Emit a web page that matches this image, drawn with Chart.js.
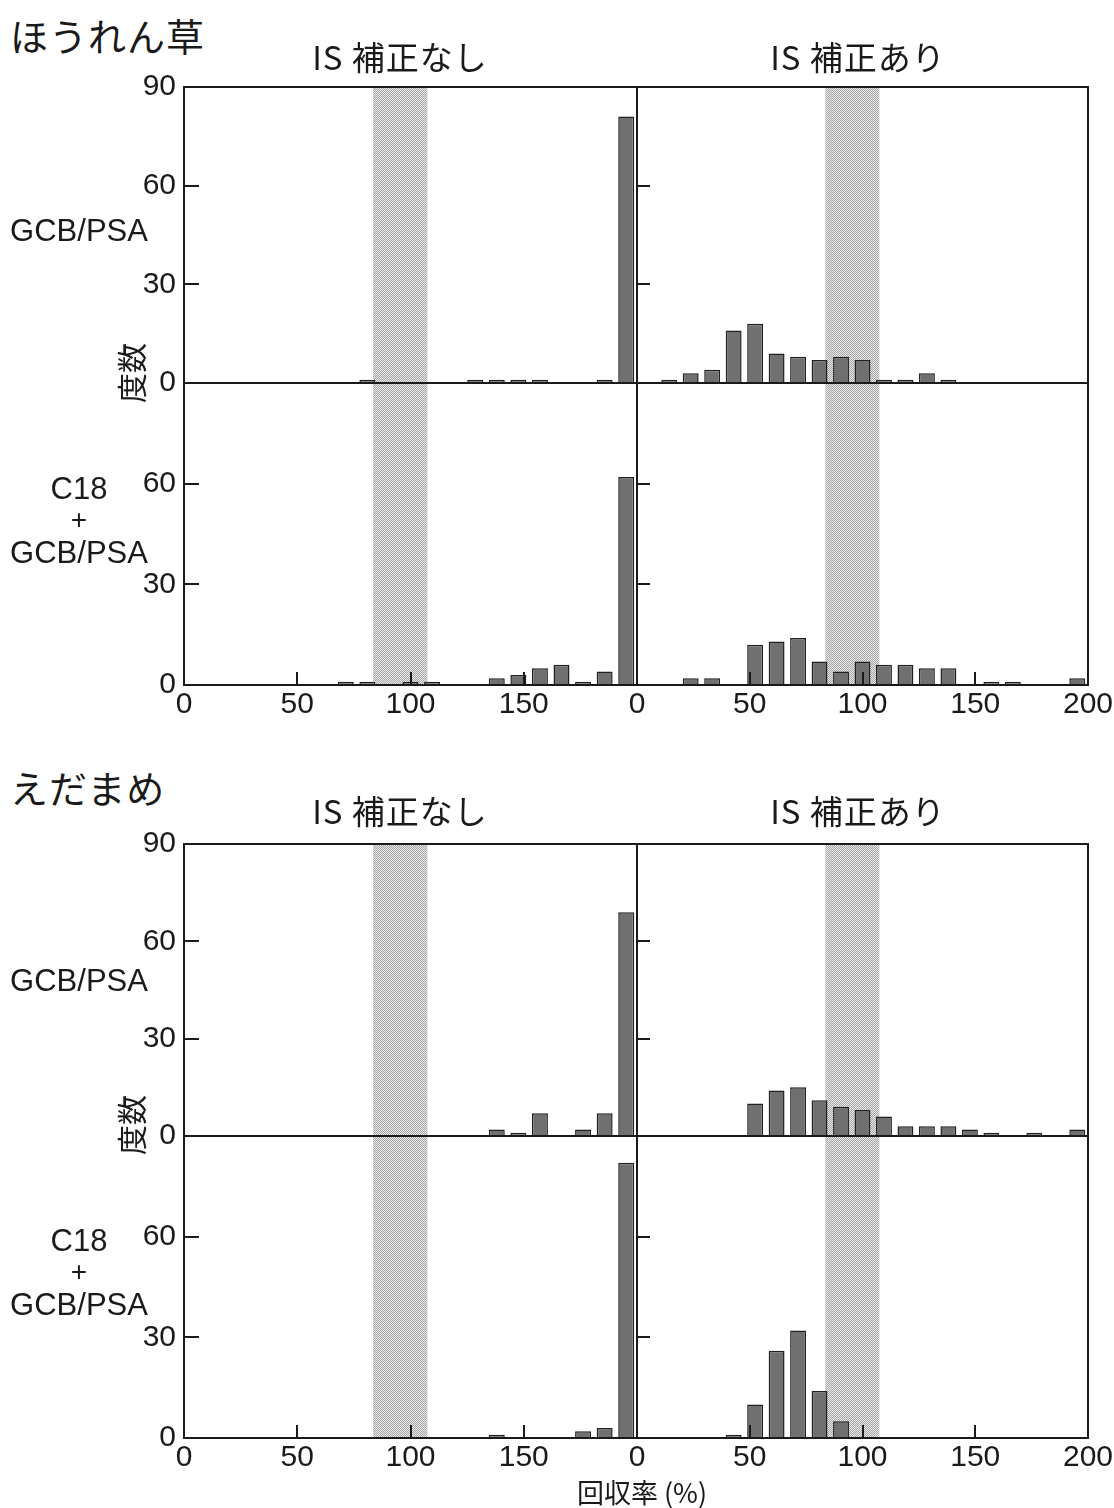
<!DOCTYPE html>
<html lang="ja">
<head>
<meta charset="utf-8">
<title>回収率の度数分布</title>
<script src="https://cdn.jsdelivr.net/npm/chart.js@4.4.1/dist/chart.umd.min.js"></script>
<style>
  html, body { margin: 0; padding: 0; background: #fff; }
  #page { position: relative; width: 1114px; height: 1508px; overflow: hidden; background: #fff; }
  #page canvas { position: absolute; }
  .t { position: absolute; white-space: nowrap; color: #1a1a1a; line-height: 1; }
  .jp { font-family: "Noto Sans CJK JP", "Noto Sans CJK SC", sans-serif; }
  .lat { font-family: "Liberation Sans", Arial, sans-serif; }
</style>
</head>
<body>
<div id="page"></div>
<script>
// ---- data ---------------------------------------------------------------
// recovery-rate classes (%), one bar per class
const recoveryBins = ['0', '10', '20', '30', '40', '50', '60', '70', '80', '90', '100',
                      '110', '120', '130', '140', '150', '160', '170', '180', '190', '200'];
const xTickValues = [0, 50, 100, 150, 200];
const yTickValues = [0, 30, 60, 90];
const targetBand = [83.5, 107.5];   // shaded recovery range (%)

const groupNames = ['ほうれん草', 'えだまめ'];
const columnTitles = ['IS 補正なし', 'IS 補正あり'];
const rowLabels = [['GCB/PSA'], ['C18', '+', 'GCB/PSA']];
const yAxisTitle = '度数';
const xAxisTitle = '回収率 (%)';

// frequencies per class: spinach
const spinachGcbNoIS  = [0, 0, 0, 0, 0, 0, 0, 0, 1, 0, 0, 0, 0, 1, 1, 1, 1, 0, 0, 1, 81];
const spinachGcbIS    = [0, 1, 3, 4, 16, 18, 9, 8, 7, 8, 7, 1, 1, 3, 1, 0, 0, 0, 0, 0, 0];
const spinachC18NoIS  = [0, 0, 0, 0, 0, 0, 0, 1, 1, 0, 1, 1, 0, 0, 2, 3, 5, 6, 1, 4, 62];
const spinachC18IS    = [0, 0, 2, 2, 0, 12, 13, 14, 7, 4, 7, 6, 6, 5, 5, 0, 1, 1, 0, 0, 2];
// frequencies per class: edamame
const edamameGcbNoIS  = [0, 0, 0, 0, 0, 0, 0, 0, 0, 0, 0, 0, 0, 0, 2, 1, 7, 0, 2, 7, 69];
const edamameGcbIS    = [0, 0, 0, 0, 0, 10, 14, 15, 11, 9, 8, 6, 3, 3, 3, 2, 1, 0, 1, 0, 2];
const edamameC18NoIS  = [0, 0, 0, 0, 0, 0, 0, 0, 0, 0, 0, 0, 0, 0, 1, 0, 0, 0, 2, 3, 82];
const edamameC18IS    = [0, 0, 0, 0, 1, 10, 26, 32, 14, 5, 0, 0, 0, 0, 0, 0, 0, 0, 0, 0, 0];

// [group][row][column]
const panelSeries = [
  [[spinachGcbNoIS, spinachGcbIS], [spinachC18NoIS, spinachC18IS]],
  [[edamameGcbNoIS, edamameGcbIS], [edamameC18NoIS, edamameC18IS]]
];

// ---- layout -------------------------------------------------------------
const frame = {
  cols: [{ x0: 184, x1: 637 }, { x0: 637, x1: 1088 }],
  groups: [
    { rows: [[87, 383], [383, 685]], nameY: 35, titleY: 56, rowLabelY: [230, 488], yTitleY: 373 },
    { rows: [[844, 1136], [1136, 1438]], nameY: 787, titleY: 810, rowLabelY: [980, 1240], yTitleY: 1125 }
  ],
  titleX: [400, 858],
  rowLabelX: 79,
  lineGap: 32,
  xTitle: { x: 642, y: 1491 }
};

const INK = '#1a1a1a';
const tickFont = { family: 'Liberation Sans', size: 30 };

const page = document.getElementById('page');

// fine stipple used for the shaded range
function stipple(ctx, dark, light) {
  const c = document.createElement('canvas');
  c.width = 2; c.height = 2;
  const g = c.getContext('2d');
  g.fillStyle = light; g.fillRect(0, 0, 2, 2);
  g.fillStyle = dark; g.fillRect(0, 0, 1, 1); g.fillRect(1, 1, 1, 1);
  return ctx.createPattern(c, 'repeat');
}

// shaded band, frame and inward tick marks
const panelDecor = {
  id: 'panelDecor',
  beforeDatasetsDraw(chart) {
    const { ctx, chartArea: a, scales } = chart;
    const x0 = scales.v.getPixelForValue(targetBand[0]);
    const x1 = scales.v.getPixelForValue(targetBand[1]);
    ctx.save();
    ctx.fillStyle = stipple(ctx, '#a4a4a4', '#ebebeb');
    ctx.fillRect(x0, a.top, x1 - x0, a.bottom - a.top);
    ctx.restore();
  },
  afterDatasetsDraw(chart, args, opts) {
    const { ctx, chartArea: a, scales } = chart;
    ctx.save();
    ctx.strokeStyle = INK;
    ctx.lineWidth = 2;
    ctx.beginPath();
    scales.y.ticks.forEach(t => {
      if (t.value > 0 && t.value < 90) {
        const y = Math.round(scales.y.getPixelForValue(t.value));
        ctx.moveTo(a.left, y); ctx.lineTo(a.left + opts.yTickLen, y);
      }
    });
    if (opts.xTicks) {
      scales.v.ticks.forEach(t => {
        if (t.value > 0 && t.value < 200) {
          const x = Math.round(scales.v.getPixelForValue(t.value));
          ctx.moveTo(x, a.bottom); ctx.lineTo(x, a.bottom - opts.xTickLen);
        }
      });
    }
    ctx.stroke();
    ctx.strokeRect(a.left, a.top, a.right - a.left, a.bottom - a.top);
    ctx.restore();
  }
};

function makePanel(values, col, row, isBottomRow) {
  const c = frame.cols[col];
  const [top, bottom] = row;
  const padT = 22, padB = isBottomRow ? 4 : 22, xAxisH = isBottomRow ? 44 : 0;
  const yW = col === 0 ? c.x0 : 0;
  const padL = col === 0 ? 0 : 40, padR = 30;
  const canvasLeft = c.x0 - yW - padL;
  const width = (c.x1 - canvasLeft) + padR;
  const height = (bottom - top) + padT + xAxisH + padB;

  const canvas = document.createElement('canvas');
  canvas.width = width; canvas.height = height;
  canvas.style.left = canvasLeft + 'px';
  canvas.style.top = (top - padT) + 'px';
  canvas.style.width = width + 'px';
  canvas.style.height = height + 'px';
  page.appendChild(canvas);

  new Chart(canvas, {
    type: 'bar',
    data: {
      labels: recoveryBins,
      datasets: [{
        data: values,
        xAxisID: 'x',
        yAxisID: 'y',
        backgroundColor: '#707070',
        borderColor: '#202020',
        borderWidth: 1.5,
        barPercentage: 0.74,
        categoryPercentage: 1.0
      }]
    },
    options: {
      responsive: false,
      animation: false,
      devicePixelRatio: 1,
      events: [],
      layout: { padding: { left: padL, right: padR, top: padT, bottom: padB } },
      plugins: {
        legend: { display: false },
        tooltip: { enabled: false },
        panelDecor: { yTickLen: col === 0 ? 15 : 13, xTicks: isBottomRow, xTickLen: 13 }
      },
      scales: {
        x: { type: 'category', display: false, offset: true, grid: { display: false } },
        v: {
          type: 'linear',
          position: 'bottom',
          offset: false,
          min: 0, max: 200,
          display: isBottomRow,
          afterBuildTicks: s => { s.ticks = xTickValues.map(v => ({ value: v })); },
          afterFit: s => { s.height = xAxisH; s.paddingLeft = 0; s.paddingRight = 0; },
          grid: { display: false, drawTicks: false, offset: false },
          border: { display: false },
          ticks: {
            font: tickFont, color: INK, padding: 2, maxRotation: 0, autoSkip: false,
            callback: v => (col === 0 && v === 200) ? '' : String(v)
          }
        },
        y: {
          type: 'linear',
          min: 0, max: 90,
          afterBuildTicks: s => { s.ticks = yTickValues.map(v => ({ value: v })); },
          afterFit: s => { s.width = yW; s.paddingTop = 0; s.paddingBottom = 0; },
          grid: { display: false, drawTicks: false },
          border: { display: false },
          ticks: {
            display: col === 0,
            font: tickFont, color: INK, padding: 8, autoSkip: false,
            callback: v => (isBottomRow && v === 90) ? '' : String(v)
          }
        }
      }
    },
    plugins: [panelDecor]
  });
}

function addText(str, cls, x, y, size, align, extra) {
  const d = document.createElement('div');
  d.className = 't ' + cls;
  d.textContent = str;
  d.style.fontSize = size + 'px';
  d.style.left = x + 'px';
  d.style.top = y + 'px';
  const tx = align === 'center' ? '-50%' : (align === 'right' ? '-100%' : '0');
  d.style.transform = 'translate(' + tx + ', -50%)' + (extra || '');
  page.appendChild(d);
  return d;
}

frame.groups.forEach((g, gi) => {
  g.rows.forEach((row, ri) => {
    [0, 1].forEach(ci => makePanel(panelSeries[gi][ri][ci], ci, row, ri === 1));
  });

  addText(groupNames[gi], 'jp', 10, g.nameY, 38, 'left').style.letterSpacing = '1px';
  columnTitles.forEach((t, ci) => {
    addText(t, 'jp', frame.titleX[ci], g.titleY, 33, 'center').style.letterSpacing = '1px';
  });
  rowLabels.forEach((lines, ri) => {
    lines.forEach((line, li) => {
      addText(line, 'lat', frame.rowLabelX, g.rowLabelY[ri] + li * frame.lineGap,
              line === '+' ? 28 : 31, 'center');
    });
  });
  addText(yAxisTitle, 'jp', 130, g.yTitleY, 30, 'center', ' rotate(-90deg)');
});

addText(xAxisTitle, 'jp', frame.xTitle.x, frame.xTitle.y, 27, 'center');
</script>
</body>
</html>
